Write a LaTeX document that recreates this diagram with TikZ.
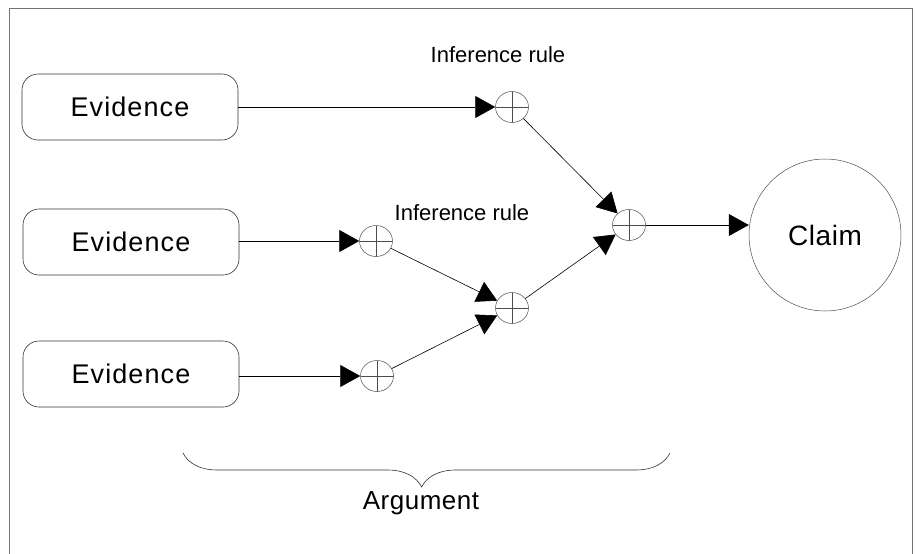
\documentclass[tikz,border=0pt]{standalone}
\usepackage{fontspec}
\setmainfont{Liberation Sans}
\usetikzlibrary{arrows.meta,shapes.geometric,decorations.pathreplacing}

\begin{document}
\begin{tikzpicture}[x=1pt,y=-1pt,
  evbox/.style={draw=black!80,line width=0.6pt,rounded corners=16pt,
    minimum width=216pt,minimum height=66pt,inner sep=0pt,
    font=\fontsize{27}{30}\selectfont\addfontfeature{LetterSpace=4}},
  rule/.style={draw=black!70,line width=0.5pt,ellipse,inner sep=0pt,
    minimum width=33pt,minimum height=31pt,
    path picture={
      \draw[black!70,line width=0.5pt]
        (path picture bounding box.north) -- (path picture bounding box.south)
        (path picture bounding box.west) -- (path picture bounding box.east);}},
  claimnode/.style={draw=black!70,line width=0.5pt,circle,minimum size=152pt,
    inner sep=0pt,font=\fontsize{28}{30}\selectfont\addfontfeature{LetterSpace=2}},
  lbl/.style={font=\fontsize{22}{24}\selectfont,inner sep=0pt},
  link/.style={draw=black,line width=0.6pt,
    -{Triangle[length=20pt,width=22pt]}}
]
  \useasboundingbox (0,0) rectangle (916,554);

  % frame (open at the bottom)
  \draw[black!55,line width=1pt] (9,554) -- (9,8) -- (912,8) -- (912,554);

  % evidence boxes
  \node[evbox] (e1) at (130,107) {Evidence};
  \node[evbox] (e2) at (131,242) {Evidence};
  \node[evbox] (e3) at (131,374) {Evidence};

  % inference rule junctions
  \node[rule] (r1) at (512,107) {};
  \node[rule] (r2) at (376,241) {};
  \node[rule] (r3) at (377,376) {};
  \node[rule] (m1) at (512,308) {};
  \node[rule] (m2) at (629,225) {};

  % claim
  \node[claimnode] (claim) at (825,235) {Claim};

  % labels
  \node[lbl] (l1) at (498,55) {Inference rule};
  \node[lbl] (l2) at (462,213) {Inference rule};

  % connectors
  \draw[link] (e1.east) -- (r1.west);
  \draw[link] (e2.east |- r2.west) -- (r2.west);
  \draw[link] (e3.east |- r3.west) -- (r3.west);
  \draw[link] (r2) -- (m1);
  \draw[link] (r3) -- (m1);
  \draw[link] (r1) -- (m2);
  \draw[link] (m1) -- (m2);
  \draw[link] (m2.east) -- (m2.east -| claim.west);

  % argument brace
  \coordinate (bl) at (183,453);
  \coordinate (br) at (670,453);
  \draw[black!80,line width=0.6pt,
    decorate,decoration={brace,mirror,amplitude=34pt,aspect=0.49}]
    (bl) -- (br);
  \node[font=\fontsize{26}{28}\selectfont\addfontfeature{LetterSpace=2},inner sep=0pt] (arg) at (421,503) {Argument};
\end{tikzpicture}
\end{document}
